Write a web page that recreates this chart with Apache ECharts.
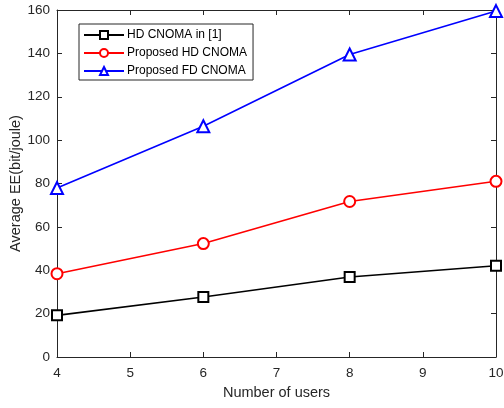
<!DOCTYPE html>
<html>
<head>
<meta charset="utf-8">
<script src="https://cdn.jsdelivr.net/npm/echarts@6/dist/echarts.min.js"></script>
<style>html,body{margin:0;padding:0;background:#fff}#c{width:504px;height:408px}</style>
</head>
<body>
<div id="c"></div>
<script>
const users = [4, 6, 8, 10];
const hdRef = [19.2, 27.7, 36.9, 42.1];
const propHD = [38.4, 52.3, 71.7, 81.0];
const propFD = [77.9, 106.4, 139.5, 159.5];
const seriesNames = ['HD CNOMA in [1]', 'Proposed HD CNOMA', 'Proposed FD CNOMA'];

const axisColor = '#262626';
const font = 'Liberation Sans, Helvetica, Arial, sans-serif';
const pair = (xs, ys) => xs.map((x, i) => [x, ys[i]]);

const chart = echarts.init(document.getElementById('c'));
const baseX = {
  type: 'value', min: 4, max: 10, interval: 1,
  axisLine: { show: true, onZero: false, lineStyle: { color: axisColor, width: 1 } },
  axisTick: { show: true, inside: true, length: 5, lineStyle: { color: axisColor } },
  splitLine: { show: false }
};
const baseY = {
  type: 'value', min: 0, max: 160, interval: 20,
  axisLine: { show: true, onZero: false, lineStyle: { color: axisColor, width: 1 } },
  axisTick: { show: true, inside: true, length: 5, lineStyle: { color: axisColor } },
  splitLine: { show: false }
};
function mk(name, data, color, symbol, size) {
  return {
    name, type: 'line', data, clip: false,
    symbol, symbolSize: size, showSymbol: true,
    lineStyle: { color, width: 1.6 },
    itemStyle: { color, borderColor: color, borderWidth: 1.6 },
    emphasis: { disabled: true },
    animation: false
  };
}
chart.setOption({
  animation: false,
  grid: { left: 57, right: 8, top: 10, bottom: 51, containLabel: false, outerBoundsMode: 'none' },
  legend: {
    data: seriesNames,
    orient: 'vertical',
    left: 79, top: 24,
    itemWidth: 40, itemHeight: 10, itemGap: 6,
    padding: [5, 6, 3, 4],
    backgroundColor: '#fff',
    borderColor: axisColor, borderWidth: 1,
    textStyle: { fontFamily: font, fontSize: 12, color: '#000', padding: [0, 0, 0, -2] }
  },
  xAxis: [
    Object.assign({}, baseX, {
      position: 'bottom',
      name: 'Number of users', nameLocation: 'middle', nameGap: 28, nameMoveOverlap: false,
      nameTextStyle: { fontFamily: font, fontSize: 14.5, color: axisColor },
      axisLabel: { fontFamily: font, fontSize: 13.5, color: axisColor, margin: 9 }
    }),
    Object.assign({}, baseX, { position: 'top', axisLabel: { show: false } })
  ],
  yAxis: [
    Object.assign({}, baseY, {
      position: 'left',
      name: 'Average EE(bit/joule)', nameLocation: 'middle', nameGap: 34, nameMoveOverlap: false,
      nameTextStyle: { fontFamily: font, fontSize: 14.5, color: axisColor },
      axisLabel: { fontFamily: font, fontSize: 13.5, color: axisColor, margin: 7 }
    }),
    Object.assign({}, baseY, { position: 'right', axisLabel: { show: false } })
  ],
  series: [
    mk(seriesNames[0], pair(users, hdRef), '#000000', 'emptyRect', 10),
    mk(seriesNames[1], pair(users, propHD), '#ff0000', 'emptyCircle', 11),
    mk(seriesNames[2], pair(users, propFD), '#0000ff', 'emptyTriangle', 12)
  ]
});
</script>
</body>
</html>
